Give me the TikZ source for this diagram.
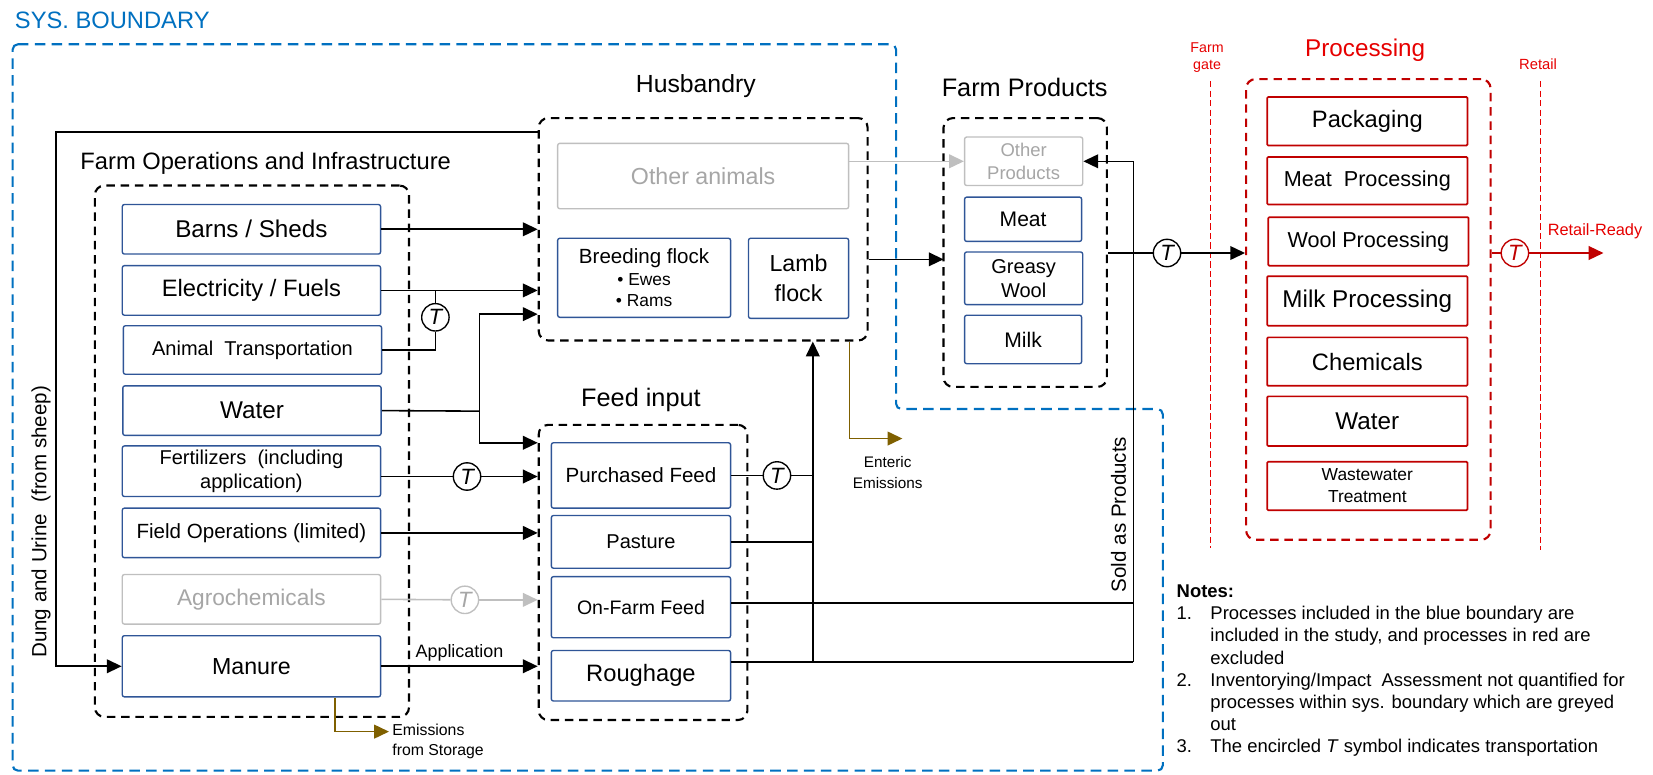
\documentclass[tikz,border=0pt]{standalone}
\usepackage{fontspec}
\setmainfont{Liberation Sans}
\usetikzlibrary{arrows.meta,calc}

\definecolor{sysblue}{RGB}{0,112,192}
\definecolor{boxblue}{RGB}{47,85,151}
\definecolor{greyline}{RGB}{191,191,191}
\definecolor{greytext}{RGB}{166,166,166}
\definecolor{procred}{RGB}{192,0,0}
\definecolor{labelred}{RGB}{230,0,0}
\definecolor{emisbrown}{RGB}{127,96,0}

\newcommand\fs[2]{\fontsize{#1pt}{#2pt}\selectfont}

\begin{document}
\begin{tikzpicture}[x=1pt,y=-1pt,
  blubox/.style={draw=boxblue, line width=1.3pt, rounded corners=2pt, fill=white,
    inner sep=1pt, align=center, text=black},
  grybox/.style={draw=greyline, line width=1.3pt, rounded corners=2pt, fill=white,
    inner sep=1pt, align=center, text=greytext},
  redbox/.style={draw=procred, line width=1.6pt, rounded corners=1pt, fill=white,
    inner sep=1pt, align=center, text=black, minimum width=190pt},
  grp/.style={draw=black, line width=2pt, dash pattern=on 8pt off 5.5pt,
    rounded corners=9pt, inner sep=0pt},
  flow/.style={line width=1.5pt, draw=black},
  arr/.style={flow, -{Triangle[length=14pt,width=13pt]}},
  gflow/.style={line width=1.5pt, draw=greyline},
  garr/.style={gflow, -{Triangle[length=14pt,width=13pt]}},
  rflow/.style={line width=1.5pt, draw=procred},
  rarr/.style={rflow, -{Triangle[length=14pt,width=13pt]}},
  emis/.style={line width=1.5pt, draw=emisbrown, -{Triangle[length=14pt,width=13pt]}},
  tcirc/.style={circle, draw=black, line width=1.3pt, fill=white, minimum size=26pt,
    inner sep=0pt, font=\fs{21}{21}\itshape},
  gatestyle/.style={draw=labelred, line width=0.8pt, dash pattern=on 6pt off 3pt},
  lbl/.style={inner sep=0pt, align=center}
]
\useasboundingbox (0,0) rectangle (1568,735);

% system boundary
\draw[sysblue, line width=2pt, dash pattern=on 10pt off 6pt, rounded corners=5pt]
  (12,42) -- (850,42) -- (850,388) -- (1103,388) -- (1103,731) -- (12,731) -- cycle;
\node[lbl, anchor=west, text=sysblue, font=\fs{22.5}{26}] (systitle) at (14,19) {SYS. BOUNDARY};

% farm operations and infrastructure
\node[lbl, font=\fs{22.5}{26}] (opstitle) at (252,155) {Farm Operations and Infrastructure};
\node[grp, minimum width=298pt, minimum height=504pt] (opsgrp) at (239,428) {};
\node[blubox, minimum width=245pt, minimum height=47pt, font=\fs{23}{27}] (barns) at (238.5,217.5) {Barns / Sheds};
\node[blubox, minimum width=245pt, minimum height=47pt, font=\fs{22.5}{27}] (elec) at (238.5,275.5) {Electricity / Fuels};
\node[blubox, minimum width=245pt, minimum height=46pt, font=\fs{19}{23}] (anim) at (239.5,332) {Animal\ \ Transportation};
\node[blubox, minimum width=245pt, minimum height=47pt, font=\fs{23}{27}] (water) at (239,389.5) {Water};
\node[blubox, minimum width=245pt, minimum height=48pt, font=\fs{19}{22}] (fert) at (238.5,447) {Fertilizers\ \ (including\\application)};
\node[blubox, minimum width=245pt, minimum height=47pt, font=\fs{19.5}{23}] (field) at (238.5,505.5) {Field Operations (limited)};
\node[grybox, minimum width=245pt, minimum height=47pt, font=\fs{21.5}{25}] (agro) at (238.5,568.5) {Agrochemicals};
\node[blubox, minimum width=245pt, minimum height=58pt, font=\fs{22}{26}] (manure) at (238.5,632) {Manure};

% husbandry
\node[lbl, font=\fs{23.5}{27}] (hustitle) at (660,82) {Husbandry};
\node[grp, minimum width=312pt, minimum height=211pt] (hus) at (667,217.5) {};
\node[grybox, minimum width=276pt, minimum height=62pt, font=\fs{22}{26}] (oanim) at (667,167) {Other animals};
\node[blubox, minimum width=164pt, minimum height=75pt, font=\fs{16.5}{20.5}] (breed) at (611,263.5)
  {{\fs{19.5}{22}Breeding flock}\\\textbullet\ Ewes\\\textbullet\ Rams};
\node[blubox, minimum width=95pt, minimum height=76pt, font=\fs{22}{28}] (lamb) at (757.5,264) {Lamb\\flock};

% farm products
\node[lbl, font=\fs{24}{28}] (fptitle) at (972,83) {Farm Products};
\node[grp, minimum width=155pt, minimum height=255pt] (fpgrp) at (972.5,239.5) {};
\node[grybox, minimum width=112pt, minimum height=46pt, font=\fs{17.5}{22}] (oprod) at (971,153) {Other\\Products};
\node[blubox, minimum width=111pt, minimum height=42pt, font=\fs{20}{24}] (meat) at (970.5,208) {Meat};
\node[blubox, minimum width=112pt, minimum height=50pt, font=\fs{19}{23}] (greasy) at (971,264) {Greasy\\Wool};
\node[blubox, minimum width=111pt, minimum height=46pt, font=\fs{20}{24}] (milk) at (970.5,322) {Milk};

% feed input
\node[lbl, font=\fs{24}{28}] (feedtitle) at (608,379) {Feed input};
\node[grp, minimum width=198pt, minimum height=280pt] (feed) at (610,543) {};
\node[blubox, minimum width=170pt, minimum height=62pt, font=\fs{19.5}{23}] (pur) at (608,451) {Purchased Feed};
\node[blubox, minimum width=170pt, minimum height=50pt, font=\fs{19}{23}] (past) at (608,514) {Pasture};
\node[blubox, minimum width=170pt, minimum height=58pt, font=\fs{18.5}{22}] (onf) at (608,576) {On-Farm Feed};
\node[blubox, minimum width=170pt, minimum height=48pt, font=\fs{22.5}{26}] (rough) at (608,641) {Roughage};

% processing (outside the boundary)
\node[lbl, text=labelred, font=\fs{23}{27}] (proctitle) at (1295,48) {Processing};
\node[grp, draw=procred, minimum width=232pt, minimum height=437pt] (proc) at (1298,293.5) {};
\node[redbox, minimum height=46pt, font=\fs{22.5}{26}] (pack) at (1297,115) {Packaging};
\node[redbox, minimum height=45pt, font=\fs{20.5}{24}] (meatp) at (1297,171.5) {Meat\ \ Processing};
\node[redbox, minimum height=46pt, font=\fs{20.5}{24}] (woolp) at (1298,229) {Wool Processing};
\node[redbox, minimum height=47pt, font=\fs{23}{27}] (milkp) at (1297,285.5) {Milk Processing};
\node[redbox, minimum height=46pt, font=\fs{22.5}{26}] (chem) at (1297,343) {Chemicals};
\node[redbox, minimum height=47pt, font=\fs{23}{27}] (pwater) at (1297,399.5) {Water};
\node[redbox, minimum height=46pt, font=\fs{16.5}{21}] (wwt) at (1297,461) {Wastewater\\Treatment};

% farm gate and retail markers
\draw[gatestyle] (1148,77) -- (1148,520);
\draw[gatestyle] (1461,77) -- (1461,522);
\node[lbl, text=labelred, font=\fs{13.5}{16}] (gatelbl) at (1145,55) {Farm\\gate};
\node[lbl, text=labelred, font=\fs{14}{16}] (retaillbl) at (1459,61) {Retail};

% dung and urine returned to manure
\coordinate (dung) at (53,125);
\draw[arr] (dung -| hus.west) -- (dung) -- (dung |- manure.west) -- (manure.west);
\node[lbl, rotate=90, font=\fs{19.5}{22}] (dunglbl) at (39,495) {Dung and Urine\ \ (from sheep)};

% inputs to husbandry
\draw[arr] (barns.east) -- (barns.east -| hus.west);
\draw[arr] (elec.east) -- (elec.east -| hus.west);
\node[tcirc] (tanim) at (413,301) {T};
\draw[flow] (anim.east) -| (tanim.south);
\draw[flow] (tanim.north) -- (tanim.north |- elec.east);
\coordinate (wj) at (455,390);
\coordinate (wup) at (455,298);
\coordinate (wdn) at (455,420);
\draw[flow] (water.east) -- (wj);
\draw[arr] (wj) -- (wup) -- (wup -| hus.west);
\draw[arr] (wj) -- (wdn) -- (wdn -| feed.west);

% inputs to feed
\node[tcirc] (tfert) at (443,452) {T};
\draw[flow] ([yshift=-5pt]fert.east) -- (tfert);
\draw[arr] (tfert) -- (tfert -| feed.west);
\draw[arr] (field.east) -- (field.east -| feed.west);
\node[tcirc, draw=greyline, text=greytext] (tagro) at (441,569) {T};
\draw[gflow] (agro.east) -- (tagro);
\draw[garr] (tagro) -- (tagro -| feed.west);
\draw[arr] (manure.east) -- (manure.east -| feed.west)
  node[midway, above=4pt, lbl, font=\fs{17}{20}] (applbl) {Application};

% emissions from manure storage
\coordinate (mem) at (318,694);
\coordinate (memend) at (369,694);
\draw[emis] (manure.south -| mem) -- (mem) -- (memend);
\node[lbl, anchor=north west, align=left, font=\fs{15}{19}] (memlbl) at (372,687) {Emissions\\from Storage};

% husbandry outputs
\draw[garr] (oanim.east |- oprod.west) -- (oprod.west);
\coordinate (hfp) at (895,246);
\draw[arr] (hfp -| hus.east) -- (hfp);
\coordinate (ent) at (806,416);
\coordinate (entend) at (856,416);
\draw[emis] (ent |- hus.south) -- (ent) -- (entend);
\node[lbl, font=\fs{14.5}{20}] (entlbl) at (842,448) {Enteric\\Emissions};

% feed to husbandry and to products
\coordinate (fv) at (771,628);
\coordinate (sv) at (1075,628);
\node[tcirc] (tpur) at (737,451) {T};
\draw[flow] (pur.east) -- (tpur);
\draw[flow] (tpur) -- (tpur -| fv);
\draw[flow] (past.east) -- (past.east -| fv);
\draw[flow] ([yshift=4pt]onf.east) -- ([yshift=4pt]onf.east -| sv);
\draw[flow] ([yshift=13pt]rough.east) -- (sv);
\draw[arr] (fv) -- (fv |- hus.south);
\draw[arr] (sv) -- (sv |- oprod.east) -- (oprod.east);
\node[lbl, rotate=90, font=\fs{19.5}{22}] (soldlbl) at (1061,488) {Sold as Products};

% farm gate to processing to retail
\node[tcirc] (tfp) at (1107,240) {T};
\draw[flow] (fpgrp.east |- tfp) -- (tfp);
\draw[arr] (tfp) -- (tfp -| proc.west);
\node[tcirc, draw=procred, text=procred] (tret) at (1437,240) {T};
\coordinate (retend) at (1521,240);
\draw[rflow] (proc.east |- tret) -- (tret);
\draw[rarr] (tret) -- (retend);
\node[lbl, text=labelred, font=\fs{15.5}{18}] (rrlbl) at (1513,219) {Retail-Ready};

% notes
\node[anchor=north west, inner sep=0pt, font=\fs{17.5}{21}] (notes) at (1116,552) {%
\begin{tabular}{@{}l@{}l@{}}
\multicolumn{2}{@{}l@{}}{\textbf{Notes:}}\\
\makebox[32pt][l]{1.} & Processes included in the blue boundary are\\
 & included in the study, and processes in red are\\
 & excluded\\
\makebox[32pt][l]{2.} & Inventorying/Impact\ \ Assessment not quantified for\\
 & processes within sys. boundary\ which are greyed\\
 & out\\
\makebox[32pt][l]{3.} & The encircled \textit{T} symbol indicates transportation
\end{tabular}};
\end{tikzpicture}
\end{document}
